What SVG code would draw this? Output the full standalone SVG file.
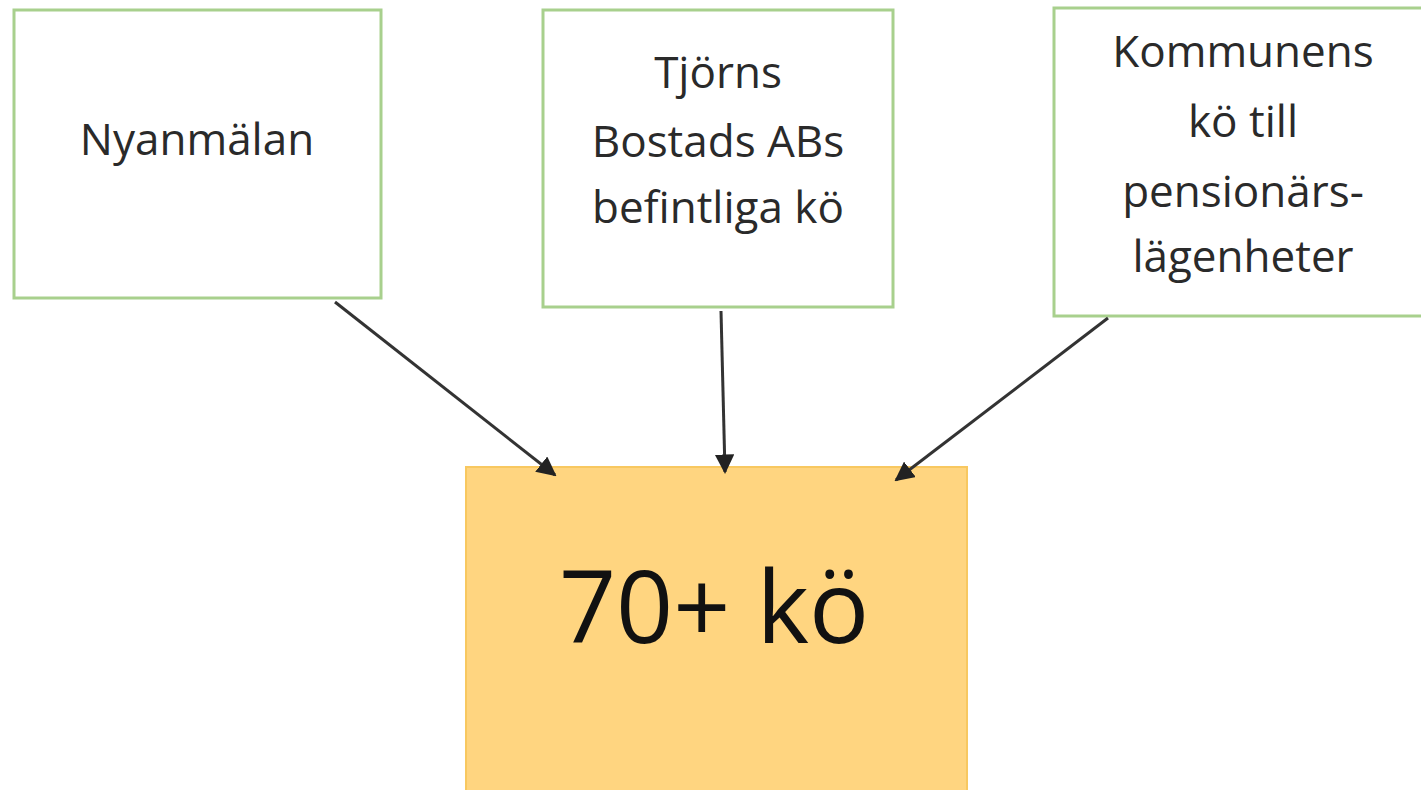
<svg xmlns="http://www.w3.org/2000/svg" width="1421" height="790" viewBox="0 0 1421 790">
<style>
.src{fill:#ffffff;stroke:#a8d08d;stroke-width:3}
.t{font-family:"Open Sans","Liberation Sans",sans-serif;font-size:44px;fill:#2a2a2a;text-anchor:middle}
.big{font-family:"Open Sans","Liberation Sans",sans-serif;font-size:100px;fill:#111;text-anchor:middle}
.c{stroke:#333;stroke-width:3;fill:none;marker-end:url(#ah)}
</style>
<defs>
<marker id="ah" viewBox="0 0 10 10" refX="9" refY="5" markerWidth="6.5" markerHeight="6.5" orient="auto" markerUnits="strokeWidth">
<path d="M0,0 L10,5 L0,10 z" fill="#222"/>
</marker>
</defs>
<rect width="1421" height="790" fill="#ffffff"/>
<g id="n1">
<rect class="src" x="14" y="10" width="367" height="288"/>
<text class="t" x="197" y="155">Nyanmälan</text>
</g>
<g id="n2">
<rect class="src" x="543" y="10" width="350" height="297"/>
<text class="t" x="718" y="88">Tjörns</text>
<text class="t" x="718" y="157">Bostads ABs</text>
<text class="t" x="718" y="223">befintliga kö</text>
</g>
<g id="n3">
<rect class="src" x="1054" y="8" width="380" height="308"/>
<text class="t" x="1243" y="67">Kommunens</text>
<text class="t" x="1243" y="137">kö till</text>
<text class="t" x="1243" y="207">pensionärs-</text>
<text class="t" x="1243" y="272">lägenheter</text>
</g>
<g id="n4">
<rect x="466" y="467" width="501" height="340" fill="#ffd580" stroke="#f8c860" stroke-width="2"/>
<text class="big" x="714" y="643">70+ kö</text>
</g>
<g id="connectors">
<line class="c" x1="335" y1="302" x2="555" y2="475"/>
<line class="c" x1="721" y1="311" x2="725" y2="472"/>
<line class="c" x1="1108" y1="318" x2="896" y2="480"/>
</g>
</svg>
